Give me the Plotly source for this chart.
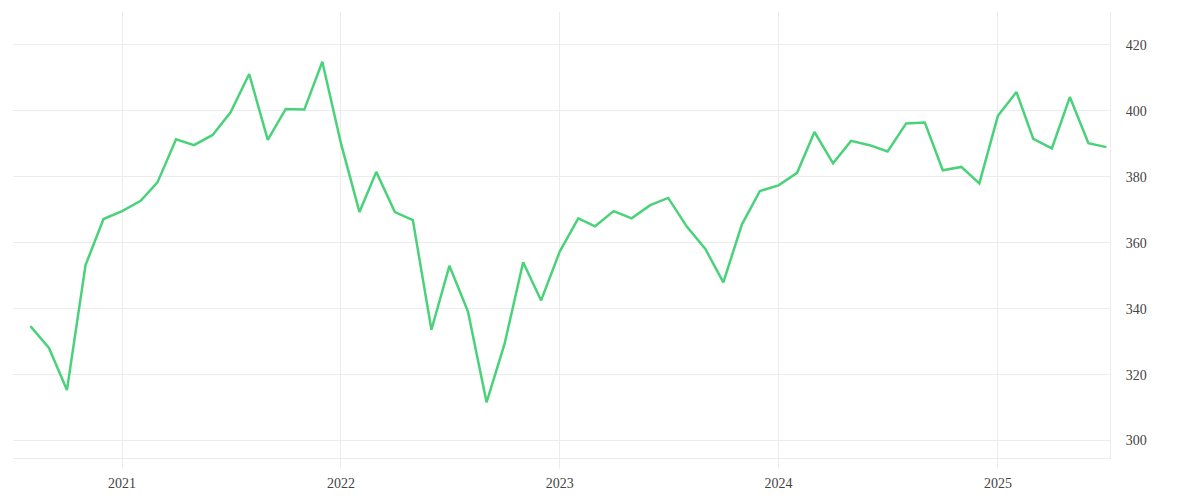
"""
Monthly index line chart
"""

import pandas as pd
import plotly.graph_objects as go

# Monthly observations, Aug 2020 - Jul 2025
months = pd.date_range("2020-08-01", periods=60, freq="MS")
values = [
    334.7, 328.1, 315.3, 353.2, 367.2,
    369.6, 372.7, 378.3, 391.4, 389.6, 392.7, 399.6, 411.2, 391.2, 400.6, 400.4, 414.9,
    390.2, 369.3, 381.5, 369.3, 366.9, 333.6, 353.0, 339.1, 311.6, 329.3, 354.1, 342.5,
    357.3, 367.4, 365.0, 369.6, 367.4, 371.4, 373.6, 364.9, 358.1, 348.0, 365.6, 375.7,
    377.4, 381.2, 393.6, 384.1, 390.9, 389.6, 387.7, 396.2, 396.5, 382.0, 383.0, 378.0,
    398.5, 405.7, 391.5, 388.6, 404.2, 390.2, 389.0,
]
y_ticks = [300, 320, 340, 360, 380, 400, 420]

GRID = "#ececec"
FONT = dict(family="Liberation Serif, Times New Roman, serif", size=14, color="#444")

fig = go.Figure()

fig.add_trace(go.Scatter(
    x=months,
    y=values,
    mode="lines",
    line=dict(color="#4ad27a", width=2.5),
    hoverinfo="x+y",
    showlegend=False,
))

# page body adds an 8px margin, so margins are trimmed to match
fig.update_layout(
    width=1200,
    height=500,
    margin=dict(l=5, r=98, t=4, b=50),
    plot_bgcolor="white",
    paper_bgcolor="white",
    font=FONT,
    showlegend=False,
)

fig.update_xaxes(
    range=["2020-07-03", "2025-07-07"],
    dtick="M12",
    tickformat="%Y",
    showgrid=True,
    gridcolor=GRID,
    gridwidth=1,
    showline=True,
    linecolor=GRID,
    linewidth=1,
    ticks="outside",
    ticklen=10,
    tickcolor=GRID,
    ticklabelstandoff=2,
    zeroline=False,
)

fig.update_yaxes(
    side="right",
    range=[294.7, 430],
    tickvals=y_ticks,
    showgrid=True,
    gridcolor=GRID,
    gridwidth=1,
    showline=True,
    linecolor=GRID,
    linewidth=1,
    ticks="",
    ticklabelstandoff=12,
    zeroline=False,
)

fig.write_html("out.html")
